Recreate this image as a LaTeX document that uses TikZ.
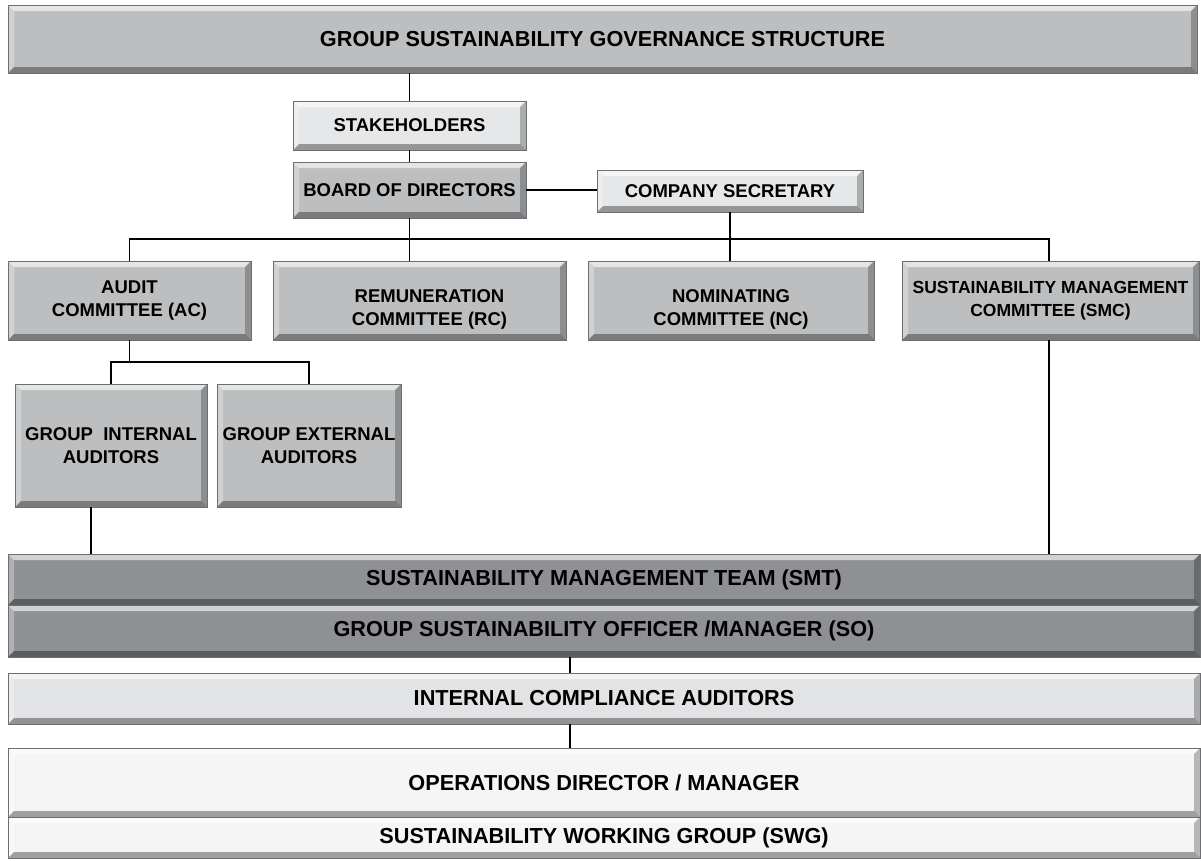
\documentclass[tikz,border=0pt]{standalone}
\usepackage{fontspec}
\setmainfont{Liberation Sans}
\definecolor{cmid}{HTML}{BCBEC0}
\definecolor{cdark}{HTML}{8E9094}
\definecolor{clight}{HTML}{E6E7E8}
\definecolor{cica}{HTML}{E2E3E5}
\definecolor{cpale}{HTML}{F5F5F5}
\definecolor{cedge}{HTML}{6D6E71}
\newcommand\bigf{\bfseries\fontsize{21.7}{26}\selectfont}
\newcommand\midf{\bfseries\fontsize{18.5}{23.5}\selectfont}
\newcommand\smallf{\bfseries\fontsize{17.5}{23}\selectfont}
\tikzset{
  bx/.style={draw=cedge, line width=1pt, inner sep=0pt, outer sep=0pt,
    align=center, font=\midf, text=black,
    path picture={
      \fill[white,opacity=.6] (path picture bounding box.north west) -- (path picture bounding box.north east)
        -- ([shift={(-6pt,-6pt)}]path picture bounding box.north east)
        -- ([shift={(6pt,-6pt)}]path picture bounding box.north west) -- cycle;
      \fill[white,opacity=.3] (path picture bounding box.north west)
        -- ([shift={(6pt,-6pt)}]path picture bounding box.north west)
        -- ([shift={(6pt,6pt)}]path picture bounding box.south west)
        -- (path picture bounding box.south west) -- cycle;
      \fill[black,opacity=.35] (path picture bounding box.south west) -- (path picture bounding box.south east)
        -- ([shift={(-6pt,6pt)}]path picture bounding box.south east)
        -- ([shift={(6pt,6pt)}]path picture bounding box.south west) -- cycle;
      \fill[black,opacity=.25] (path picture bounding box.north east)
        -- ([shift={(-6pt,-6pt)}]path picture bounding box.north east)
        -- ([shift={(-6pt,6pt)}]path picture bounding box.south east)
        -- (path picture bounding box.south east) -- cycle;
    }},
  conn/.style={draw=black, line width=1.3pt}
}
\begin{document}
\begin{tikzpicture}[x=1pt,y=-1pt]
\useasboundingbox (0,0) rectangle (1201,860);
% boxes
\node[bx, fill=cmid, font=\bigf, minimum width=1189pt, minimum height=68pt] (title) at (602.5,39) {GROUP SUSTAINABILITY GOVERNANCE STRUCTURE};
\node[bx, fill=clight, minimum width=233pt, minimum height=49pt] (stake) at (409.5,125.5) {STAKEHOLDERS};
\node[bx, fill=cmid, minimum width=233pt, minimum height=56pt] (board) at (409.5,190) {BOARD OF DIRECTORS};
\node[bx, fill=clight, minimum width=266pt, minimum height=42pt] (cosec) at (730,191) {COMPANY SECRETARY};
\node[bx, fill=cmid, minimum width=243pt, minimum height=79pt] (audit) at (129.5,300.5) {AUDIT\\COMMITTEE (AC)};
\node[bx, fill=cmid, minimum width=293pt, minimum height=79pt] (remun) at (419.5,300.5)
  {\hspace*{20pt}\raisebox{-9pt}[\height][\depth]{\begin{tabular}{@{}c@{}}REMUNERATION\\COMMITTEE (RC)\end{tabular}}};
\node[bx, fill=cmid, minimum width=286pt, minimum height=79pt] (nomin) at (731,300.5)
  {\raisebox{-9pt}[\height][\depth]{\begin{tabular}{@{}c@{}}NOMINATING\\COMMITTEE (NC)\end{tabular}}};
\node[bx, fill=cmid, font=\smallf, minimum width=297pt, minimum height=79pt] (smc) at (1050.5,300.5) {SUSTAINABILITY MANAGEMENT\\COMMITTEE (SMC)};
\node[bx, fill=cmid, minimum width=192pt, minimum height=123pt] (gia) at (111,445.5) {GROUP \ INTERNAL\\AUDITORS};
\node[bx, fill=cmid, minimum width=184pt, minimum height=123pt] (gea) at (309,445.5) {GROUP EXTERNAL\\AUDITORS};
\node[bx, fill=cdark, font=\bigf, minimum width=1192pt, minimum height=51pt] (smt) at (604,579.5) {SUSTAINABILITY MANAGEMENT TEAM (SMT)};
\node[bx, fill=cdark, font=\bigf, minimum width=1192pt, minimum height=52pt] (so) at (604,631) {GROUP SUSTAINABILITY OFFICER /MANAGER (SO)};
\node[bx, fill=cica, font=\bigf, minimum width=1192pt, minimum height=51pt] (ica) at (604,698.5) {INTERNAL COMPLIANCE AUDITORS};
\node[bx, fill=cpale, font=\bigf, minimum width=1192pt, minimum height=69pt] (ops) at (604,782.5) {OPERATIONS DIRECTOR / MANAGER};
\node[bx, fill=cpale, font=\bigf, minimum width=1192pt, minimum height=41pt] (swg) at (604,837.5) {SUSTAINABILITY WORKING GROUP (SWG)};
% connectors
\coordinate (busL) at (129.5,239);
\coordinate (busR) at (1049,239);
\coordinate (sub) at (129.5,362);
\coordinate (giaX) at (91,0);
\coordinate (midX) at (570,0);
\draw[conn] (stake.north |- title.south) -- (stake.north);
\draw[conn] (stake.south) -- (board.north);
\draw[conn] (board.east) -- (cosec.west |- board.east);
\draw[conn] (board.south) -- (board.south |- remun.north);
\draw[conn] (cosec.south) -- (cosec.south |- nomin.north);
\draw[conn] (audit.north) -- (busL) -- (busR) -- (busR |- smc.north);
\draw[conn] (audit.south) -- (sub);
\draw[conn] (gia.north) |- (sub) -| (gea.north);
\draw[conn] (gia.south -| giaX) -- (smt.north -| giaX);
\draw[conn] (smc.south -| busR) -- (smt.north -| busR);
\draw[conn] (so.south -| midX) -- (ica.north -| midX);
\draw[conn] (ica.south -| midX) -- (ops.north -| midX);
\end{tikzpicture}
\end{document}
